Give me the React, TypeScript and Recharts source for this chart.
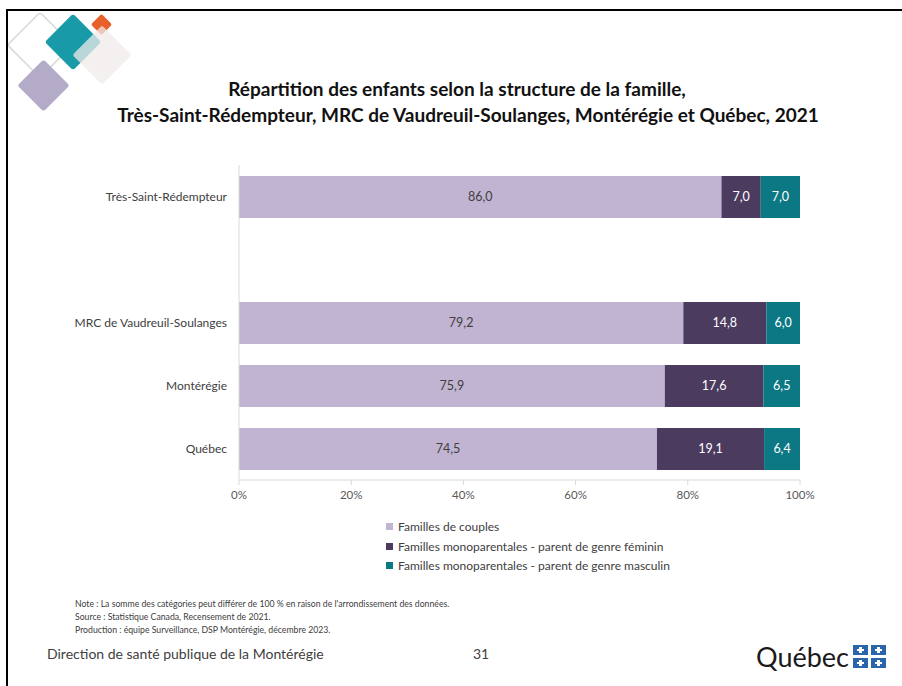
import { BarChart, Bar, XAxis, YAxis, LabelList } from "recharts";

// values (%)
const categories = [
  "Très-Saint-Rédempteur",
  "",
  "MRC de Vaudreuil-Soulanges",
  "Montérégie",
  "Québec",
];
const couples = [86.0, null, 79.2, 75.9, 74.5];
const feminin = [7.0, null, 14.8, 17.6, 19.1];
const masculin = [7.0, null, 6.0, 6.5, 6.4];
const xTicks = [0, 20, 40, 60, 80, 100];

const series = [
  { key: "couples", label: "Familles de couples", color: "#c1b4d2", text: "#404040" },
  { key: "feminin", label: "Familles monoparentales - parent de genre féminin", color: "#4b3b5f", text: "#ffffff" },
  { key: "masculin", label: "Familles monoparentales - parent de genre masculin", color: "#0b7883", text: "#ffffff" },
];

const data = categories.map((name, i) => ({
  name,
  couples: couples[i],
  feminin: feminin[i],
  masculin: masculin[i],
}));

const FONT = "Lato, 'Open Sans', sans-serif";
const fmt = (v: any) => (v == null ? "" : Number(v).toFixed(1).replace(".", ","));

const Deco = () => (
  <svg width={140} height={120} style={{ position: "absolute", left: 8, top: 11 }}>
    {/* outline diamond */}
    <rect x={9} y={11} width={46} height={46} rx={3} fill="none" stroke="#d6dcd3" strokeWidth={1.5}
      transform="rotate(45 32 34)" />
    {/* teal */}
    <rect x={45} y={11} width={40} height={40} rx={3} fill="#189aa9" transform="rotate(45 65 31)" />
    {/* orange */}
    <rect x={86} y={6} width={15} height={15} rx={2} fill="#e8612a" transform="rotate(45 93.5 13.5)" />
    {/* light grey, semi-transparent */}
    <rect x={73} y={23} width={42} height={42} rx={3} fill="#efebe9" fillOpacity={0.75} transform="rotate(45 94 44)" />
    {/* lilac */}
    <rect x={17} y={56} width={37} height={37} rx={3} fill="#b4abc8" transform="rotate(45 35.5 74.5)" />
  </svg>
);

const Flag = () => (
  <svg width={34} height={24} style={{ position: "absolute", left: 853, top: 645 }}>
    {[0, 1].map((r) =>
      [0, 1].map((c) => (
        <g key={`${r}-${c}`}>
          <rect x={c * 18} y={r * 13} width={15} height={10} fill="#2a64ad" />
          <rect x={c * 18 + 6} y={r * 13 + 2} width={3} height={6} fill="#ffffff" />
          <rect x={c * 18 + 4} y={r * 13 + 4} width={7} height={2} fill="#ffffff" />
        </g>
      ))
    )}
  </svg>
);

const titleStyle = {
  position: "absolute" as const,
  left: 0,
  textAlign: "center" as const,
  fontWeight: 700,
  fontSize: 19,
  lineHeight: "26px",
  color: "#111",
  whiteSpace: "nowrap" as const,
};

export default function App() {
  return (
    <div
      style={{
        position: "absolute",
        left: 0,
        top: 0,
        width: 902,
        height: 686,
        background: "#ffffff",
        overflow: "hidden",
        fontFamily: FONT,
      }}
    >
      <div
        style={{
          position: "absolute",
          left: 6,
          top: 9,
          width: 1000,
          height: 1000,
          borderLeft: "2px solid #000",
          borderTop: "2px solid #000",
        }}
      />
      <Deco />

      <div style={{ ...titleStyle, top: 76, width: 914 }}>
        Répartition des enfants selon la structure de la famille,
      </div>
      <div style={{ ...titleStyle, top: 102, width: 936 }}>
        Très-Saint-Rédempteur, MRC de Vaudreuil-Soulanges, Montérégie et Québec, 2021
      </div>

      <div style={{ position: "absolute", left: 0, top: 150 }}>
        <BarChart
          width={902}
          height={380}
          data={data}
          layout="vertical"
          margin={{ top: 15, right: 102, bottom: 20, left: 0 }}
        >
          <XAxis
            type="number"
            domain={[0, 100]}
            ticks={xTicks}
            tickFormatter={(v) => `${v}%`}
            axisLine={{ stroke: "#d9d9d9" }}
            tickLine={{ stroke: "#d9d9d9" }}
            tickSize={5}
            tickMargin={6}
            height={30}
            tick={{ fill: "#595959", fontSize: 11.5, fontFamily: FONT }}
          />
          <YAxis
            type="category"
            dataKey="name"
            width={239}
            axisLine={{ stroke: "#d9d9d9" }}
            tickLine={false}
            tickSize={6}
            tickMargin={6}
            tick={{ fill: "#404040", fontSize: 12, fontFamily: FONT }}
          />
          {series.map((s) => (
            <Bar key={s.key} dataKey={s.key} stackId="a" fill={s.color} barSize={42} isAnimationActive={false}>
              <LabelList
                dataKey={s.key}
                position="center"
                formatter={fmt}
                fill={s.text}
                style={{ fontSize: 12.5, fontFamily: FONT }}
              />
            </Bar>
          ))}
        </BarChart>
      </div>

      <div style={{ position: "absolute", left: 386, top: 517 }}>
        {series.map((s) => (
          <div
            key={s.key}
            style={{ display: "flex", alignItems: "center", height: 19.5, fontSize: 12, color: "#404040" }}
          >
            <span style={{ display: "inline-block", width: 7, height: 7, background: s.color, marginRight: 5 }} />
            {s.label}
          </div>
        ))}
      </div>

      <div style={{ position: "absolute", left: 75, top: 597, fontSize: 8.7, lineHeight: "13px", color: "#404040" }}>
        <div>Note : La somme des catégories peut différer de 100 % en raison de l'arrondissement des données.</div>
        <div>Source : Statistique Canada, Recensement de 2021.</div>
        <div>Production : équipe Surveillance, DSP Montérégie, décembre 2023.</div>
      </div>

      <div style={{ position: "absolute", left: 47, top: 645, fontSize: 14, color: "#404040" }}>
        Direction de santé publique de la Montérégie
      </div>
      <div style={{ position: "absolute", left: 473, top: 645, fontSize: 14, color: "#404040" }}>31</div>

      <div style={{ position: "absolute", left: 756, top: 640, fontSize: 27, color: "#1a1a1a" }}>Québec</div>
      <Flag />
    </div>
  );
}
